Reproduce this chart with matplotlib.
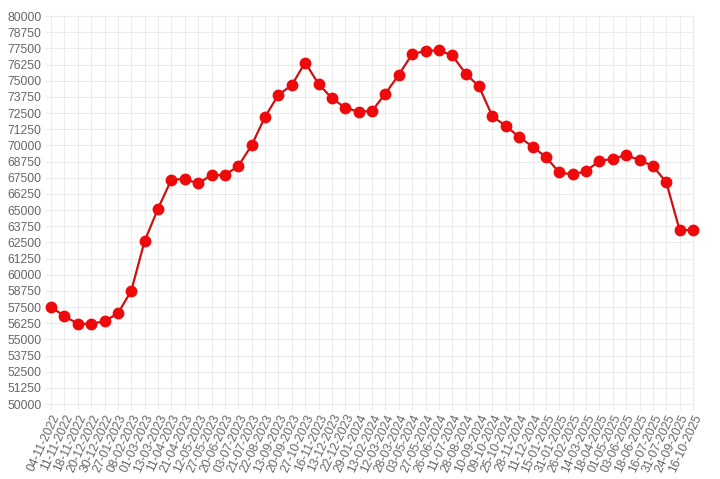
import matplotlib
matplotlib.use("Agg")
import matplotlib.pyplot as plt

dates = ["04-11-2022", "11-11-2022", "18-11-2022", "20-12-2022", "30-12-2022", "27-01-2023",
         "08-02-2023", "01-03-2023", "13-03-2023", "11-04-2023", "21-04-2023", "12-05-2023",
         "27-05-2023", "20-06-2023", "03-07-2023", "21-07-2023", "22-08-2023", "13-09-2023",
         "20-09-2023", "27-10-2023", "16-11-2023", "13-12-2023", "22-12-2023", "29-01-2024",
         "13-02-2024", "12-03-2024", "28-03-2024", "03-05-2024", "27-05-2024", "26-06-2024",
         "11-07-2024", "28-08-2024", "10-09-2024", "09-10-2024", "25-10-2024", "28-11-2024",
         "11-12-2024", "15-01-2025", "31-01-2025", "26-02-2025", "14-03-2025", "18-04-2025",
         "01-05-2025", "03-06-2025", "18-06-2025", "16-07-2025", "31-07-2025", "24-09-2025",
         "16-10-2025"]
values = [57500, 56800, 56200, 56200, 56400, 57000, 58750, 62600, 65100, 67350, 67400, 67050,
          67700, 67700, 68400, 70000, 72200, 73900, 74650, 76400, 74750, 73650, 72900, 72600,
          72650, 74000, 75450, 77050, 77300, 77350, 76950, 75550, 74550, 72250, 71500, 70650,
          69900, 69100, 67900, 67750, 68000, 68800, 68950, 69250, 68850, 68400, 67150, 63450,
          63450]
yticks = list(range(50000, 80001, 1250))

plt.rcParams['font.family'] = ['Liberation Sans', 'DejaVu Sans']
fig = plt.figure(figsize=(7.2, 4.79), dpi=100)
W, H = 720, 479
ax = fig.add_axes([51 / W, 1 - 404 / H, (693 - 51) / W, (404 - 16) / H])

x = list(range(len(dates)))
ax.plot(x, values, color='#cc1111', linewidth=1.6, marker='o', markersize=7.5,
        markerfacecolor='#ee0a0a', markeredgecolor='#ee0a0a', zorder=3, clip_on=False)

ax.set_xlim(0, len(dates) - 1)
ax.set_ylim(50000, 80000)
ax.set_yticks(yticks)
ax.set_yticklabels([str(v) for v in yticks])
ax.set_xticks(x)
ax.set_xticklabels(dates, rotation=65, ha='right', va='top', rotation_mode='anchor')

grid_c = '#ececec'
ax.grid(True, color=grid_c, linewidth=0.8)
ax.set_axisbelow(True)
for s in ax.spines.values():
    s.set_color(grid_c)
    s.set_linewidth(0.8)
ax.tick_params(axis='both', colors=grid_c, length=4, width=0.8, labelsize=8.7,
               labelcolor='#666666', pad=3)
ax.tick_params(axis='x', pad=2)

fig.savefig('out.png', dpi=100)
